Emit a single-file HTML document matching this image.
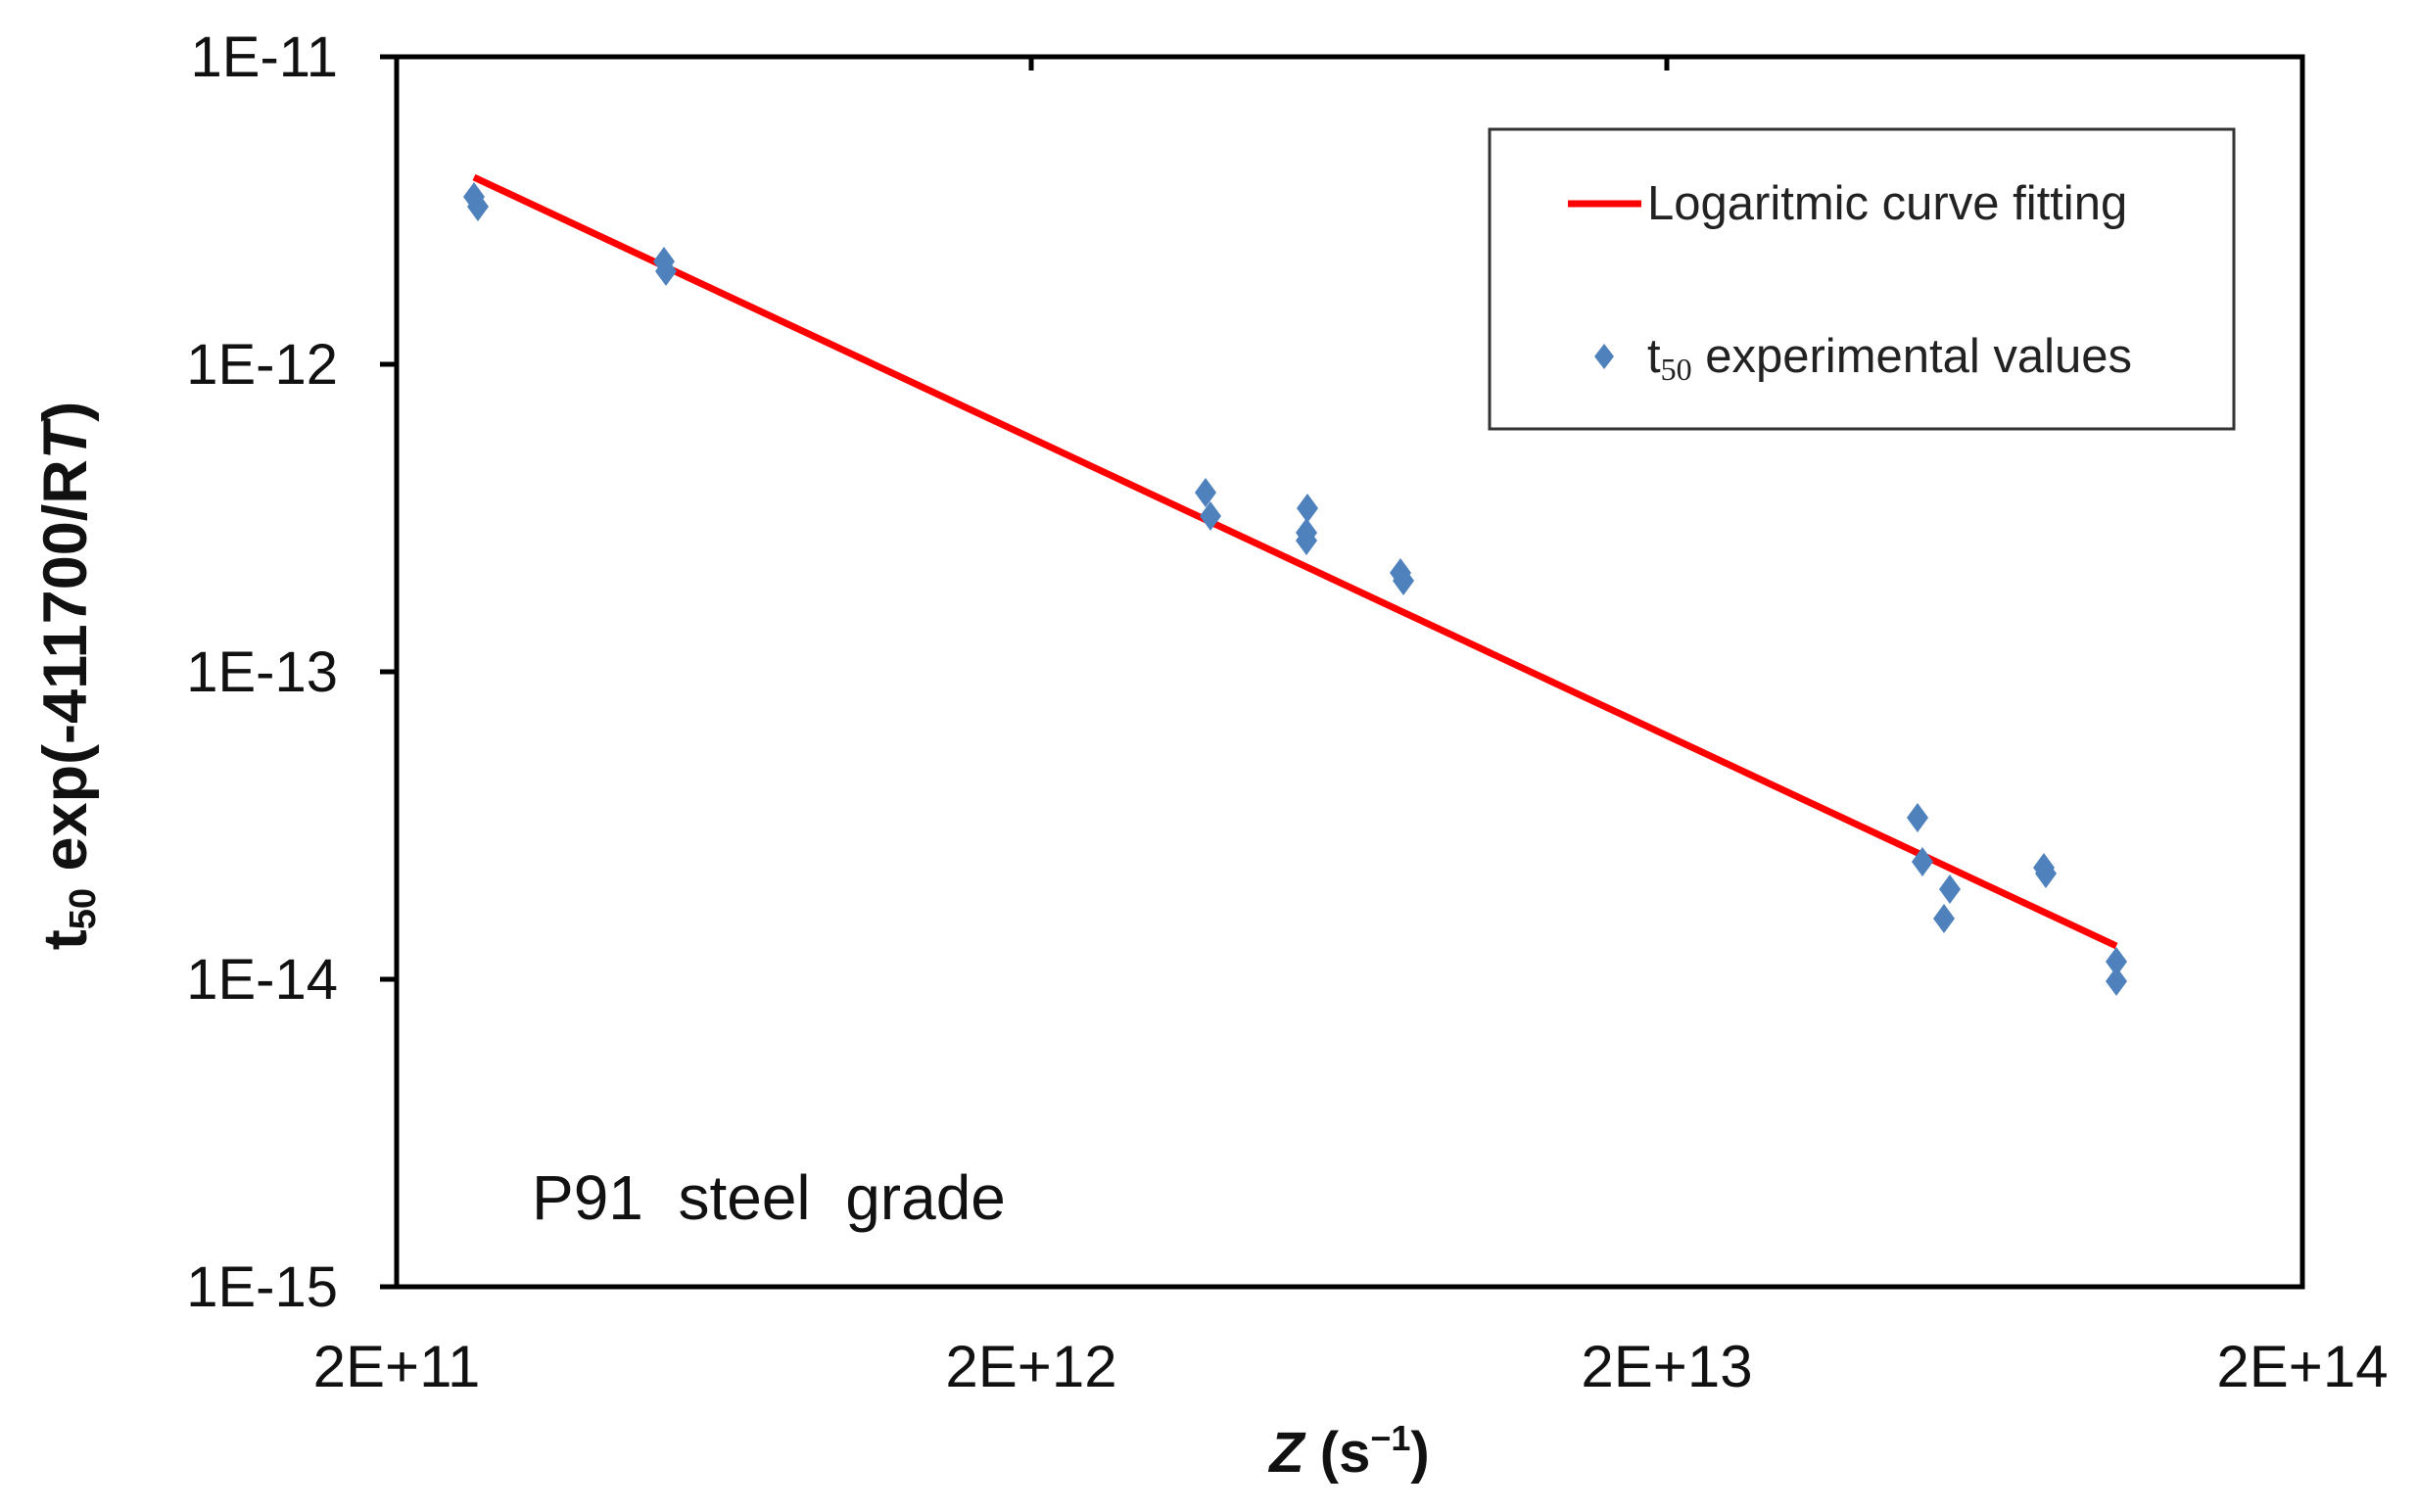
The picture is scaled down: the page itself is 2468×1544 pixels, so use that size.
<!DOCTYPE html>
<html><head><meta charset="utf-8"><style>html,body{margin:0;padding:0;background:#fff}svg{display:block}</style></head>
<body>
<svg width="2468" height="1544" viewBox="0 0 2468 1544" xmlns="http://www.w3.org/2000/svg" font-family="Liberation Sans, Arial, sans-serif">
<rect width="2468" height="1544" fill="#fff"/>
<rect x="405" y="58" width="1946" height="1256" fill="none" stroke="#000" stroke-width="5"/>
<g stroke="#000" stroke-width="5">
<line x1="388" y1="58" x2="405" y2="58"/>
<line x1="388" y1="372" x2="405" y2="372"/>
<line x1="388" y1="686" x2="405" y2="686"/>
<line x1="388" y1="1000" x2="405" y2="1000"/>
<line x1="388" y1="1314" x2="405" y2="1314"/>
<line x1="1053" y1="58" x2="1053" y2="72"/>
<line x1="1702" y1="58" x2="1702" y2="72"/>
</g>
<g font-size="58" fill="#111" text-anchor="end">
<text x="345" y="78">1E-11</text>
<text x="345" y="392">1E-12</text>
<text x="345" y="706">1E-13</text>
<text x="345" y="1020">1E-14</text>
<text x="345" y="1334">1E-15</text>
</g>
<g font-size="60" fill="#111" text-anchor="middle">
<text x="405" y="1416">2E+11</text>
<text x="1053" y="1416">2E+12</text>
<text x="1702" y="1416">2E+13</text>
<text x="2351" y="1416">2E+14</text>
</g>
<text x="1378" y="1503" font-size="58" font-weight="bold" text-anchor="middle" fill="#111"><tspan font-style="italic">Z</tspan> (s<tspan font-size="36" dy="-22">−1</tspan><tspan dy="22">)</tspan></text>
<text transform="translate(88,690) rotate(-90)" font-size="63" font-weight="bold" text-anchor="middle" fill="#111">t<tspan font-size="38" dy="9">50</tspan><tspan dy="-9"> exp(-411700/R</tspan><tspan font-style="italic">T</tspan>)</text>
<text x="543" y="1245" font-size="64" fill="#111" xml:space="preserve">P91  steel  grade</text>
<line x1="484" y1="181" x2="2161" y2="966" stroke="#ff0000" stroke-width="7"/>
<g fill="#4f81bd">
<path d="M0,-15 L11,0 L0,15 L-11,0Z" transform="translate(484,201)"/>
<path d="M0,-15 L11,0 L0,15 L-11,0Z" transform="translate(488,211)"/>
<path d="M0,-15 L11,0 L0,15 L-11,0Z" transform="translate(678,267)"/>
<path d="M0,-15 L11,0 L0,15 L-11,0Z" transform="translate(680,277)"/>
<path d="M0,-15 L11,0 L0,15 L-11,0Z" transform="translate(1231,503)"/>
<path d="M0,-15 L11,0 L0,15 L-11,0Z" transform="translate(1236,527)"/>
<path d="M0,-15 L11,0 L0,15 L-11,0Z" transform="translate(1335,519)"/>
<path d="M0,-15 L11,0 L0,15 L-11,0Z" transform="translate(1334,544)"/>
<path d="M0,-15 L11,0 L0,15 L-11,0Z" transform="translate(1334,552)"/>
<path d="M0,-15 L11,0 L0,15 L-11,0Z" transform="translate(1430,585)"/>
<path d="M0,-15 L11,0 L0,15 L-11,0Z" transform="translate(1433,593)"/>
<path d="M0,-15 L11,0 L0,15 L-11,0Z" transform="translate(1958,835)"/>
<path d="M0,-15 L11,0 L0,15 L-11,0Z" transform="translate(1963,880)"/>
<path d="M0,-15 L11,0 L0,15 L-11,0Z" transform="translate(1991,908)"/>
<path d="M0,-15 L11,0 L0,15 L-11,0Z" transform="translate(1985,938)"/>
<path d="M0,-15 L11,0 L0,15 L-11,0Z" transform="translate(2087,886)"/>
<path d="M0,-15 L11,0 L0,15 L-11,0Z" transform="translate(2089,892)"/>
<path d="M0,-15 L11,0 L0,15 L-11,0Z" transform="translate(2161,982)"/>
<path d="M0,-15 L11,0 L0,15 L-11,0Z" transform="translate(2161,1002)"/>
</g>
<rect x="1521" y="132" width="760" height="306" fill="#fff" stroke="#333" stroke-width="3"/>
<line x1="1601" y1="208" x2="1676" y2="208" stroke="#ff0000" stroke-width="7"/>
<text x="1682" y="224" font-size="49" fill="#222">Logaritmic curve fitting</text>
<path d="M0,-13 L10,0 L0,13 L-10,0Z" transform="translate(1638,364)" fill="#4f81bd"/>
<text x="1682" y="380" font-size="49" fill="#222">t<tspan font-size="32" dy="8" font-family="Liberation Serif, serif">50</tspan><tspan dy="-8"> experimental values</tspan></text>
</svg>
</body></html>
